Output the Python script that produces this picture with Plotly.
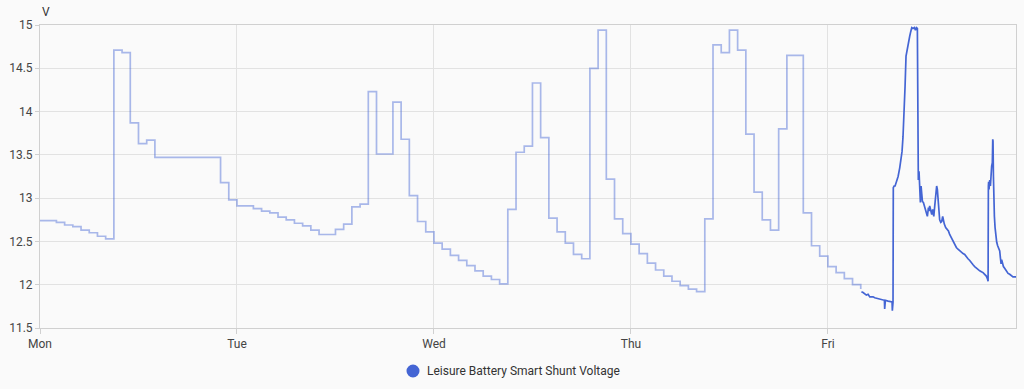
import pandas as pd
import plotly.graph_objects as go

# Hourly statistics (long-term) values, starting Mon 00:00
stat_start = "2024-01-01 00:00"
stat_values = [
    12.74, 12.74, 12.72, 12.69, 12.67, 12.63, 12.60, 12.56, 12.53, 14.71,
    14.68, 13.87, 13.63, 13.67, 13.47, 13.47, 13.47, 13.47, 13.47, 13.47,
    13.47, 13.47, 13.18, 12.98, 12.91, 12.91, 12.88, 12.85, 12.83, 12.78,
    12.75, 12.71, 12.68, 12.63, 12.58, 12.58, 12.64, 12.70, 12.90, 12.93,
    14.23, 13.51, 13.51, 14.11, 13.68, 13.03, 12.73, 12.61, 12.48, 12.41,
    12.34, 12.28, 12.22, 12.16, 12.10, 12.06, 12.01, 12.87, 13.53, 13.60,
    14.33, 13.70, 12.77, 12.61, 12.48, 12.35, 12.30, 14.50, 14.94, 13.22,
    12.76, 12.59, 12.47, 12.36, 12.25, 12.17, 12.10, 12.04, 11.99, 11.95,
    11.92, 12.76, 14.77, 14.68, 14.94, 14.71, 13.74, 13.07, 12.75, 12.63,
    13.80, 14.65, 14.65, 12.83, 12.45, 12.33, 12.21, 12.14, 12.07, 12.00,
    11.95,
]

# Detailed history on Friday
hist_day = "2024-01-05"
hist_times = [
    "04:05", "04:17", "04:41", "04:54", "05:06", "05:30", "05:42", "06:07", "06:31", "06:53",
    "06:55", "07:00", "07:20", "07:44", "07:49", "07:51", "07:54", "07:56", "07:58", "08:04",
    "08:11", "08:21", "08:33", "08:45", "08:55", "09:02", "09:09", "09:17", "09:24", "09:31",
    "09:36", "09:46", "09:58", "10:05", "10:13", "10:22", "10:32", "10:40", "10:47", "10:54",
    "10:57", "11:01", "11:06", "11:11", "11:16", "11:21", "11:26", "11:31", "11:38", "11:45",
    "11:53", "12:00", "12:07", "12:15", "12:19", "12:24", "12:32", "12:39", "12:46", "12:54",
    "13:01", "13:08", "13:15", "13:20", "13:25", "13:30", "13:37", "13:45", "13:52", "13:59",
    "14:04", "14:11", "14:21", "14:31", "14:41", "14:50", "15:03", "15:15", "15:27", "15:39",
    "15:51", "16:03", "16:16", "16:28", "16:40", "16:52", "17:04", "17:17", "17:29", "17:41",
    "17:53", "18:05", "18:17", "18:30", "18:42", "18:54", "19:06", "19:18", "19:26", "19:31",
    "19:33", "19:35", "19:38", "19:43", "19:48", "19:52", "19:57", "20:02", "20:05", "20:07",
    "20:10", "20:12", "20:17", "20:22", "20:27", "20:34", "20:41", "20:49", "20:56", "21:01",
    "21:06", "21:10", "21:15", "21:23", "21:32", "21:45", "21:57", "22:09", "22:21", "22:33",
    "22:45", "22:55",
]
hist_values = [
    11.92, 11.91, 11.88, 11.89, 11.86, 11.86, 11.85, 11.84, 11.83, 11.82,
    11.72, 11.82, 11.81, 11.80, 11.80, 11.70, 11.80, 11.80, 13.12, 13.14,
    13.14, 13.18, 13.25, 13.35, 13.44, 13.54, 13.71, 13.98, 14.29, 14.64,
    14.69, 14.77, 14.87, 14.92, 14.97, 14.96, 14.97, 14.94, 14.97, 14.96,
    13.29, 13.21, 13.31, 13.14, 12.95, 13.14, 13.02, 12.96, 12.95, 12.91,
    12.85, 12.81, 12.79, 12.89, 12.85, 12.91, 12.83, 12.81, 12.87, 12.79,
    12.91, 13.06, 13.14, 13.10, 12.98, 12.79, 12.75, 12.72, 12.73, 12.79,
    12.75, 12.70, 12.66, 12.64, 12.62, 12.58, 12.54, 12.50, 12.47, 12.43,
    12.41, 12.39, 12.37, 12.36, 12.35, 12.32, 12.30, 12.28, 12.25, 12.23,
    12.21, 12.19, 12.18, 12.16, 12.15, 12.14, 12.12, 12.10, 12.07, 12.04,
    13.14, 13.19, 13.10, 13.21, 13.14, 13.27, 13.37, 13.41, 13.68, 13.66,
    13.25, 12.98, 12.79, 12.66, 12.56, 12.49, 12.45, 12.42, 12.39, 12.31,
    12.24, 12.29, 12.25, 12.21, 12.19, 12.15, 12.13, 12.12, 12.10, 12.09,
    12.09, 12.09,
]

day_ticks = ["2024-01-01", "2024-01-02", "2024-01-03", "2024-01-04", "2024-01-05"]
day_labels = ["Mon", "Tue", "Wed", "Thu", "Fri"]
y_ticks = [11.5, 12, 12.5, 13, 13.5, 14, 14.5, 15]
x_range = ["2024-01-01 00:00", "2024-01-05 22:55"]
series_name = "Leisure Battery Smart Shunt Voltage"
unit = "V"

stat_times = pd.date_range(stat_start, periods=len(stat_values), freq="h")
hist_ts = pd.to_datetime([f"{hist_day} {t}" for t in hist_times])

W, H = 1024, 389
ML, MR, MT, MB = 40, 8, 25, 61
dark = "#4465d4"
light = "rgba(68,101,212,0.45)"
grid = "#e2e2e2"
axis_c = "#d0d0d0"
font = dict(family="Roboto", size=12, color="#444444")

fig = go.Figure()
fig.add_trace(go.Scatter(x=stat_times, y=stat_values, mode="lines", name=series_name,
                         line=dict(color=light, width=1.7, shape="hv"),
                         showlegend=False, hoverinfo="skip"))
fig.add_trace(go.Scatter(x=hist_ts, y=hist_values, mode="lines", name=series_name,
                         line=dict(color=dark, width=1.7),
                         showlegend=False))

# legend (circle + label) below the plot, in pixel positions relative to paper
plot_w, plot_h = W - ML - MR, H - MT - MB
def px_x(px):
    return (px - ML) / plot_w
def px_y(py):
    return (H - MB - py) / plot_h

leg_cx, leg_cy, leg_r = 413, 371, 6.5
fig.add_shape(type="circle", xref="paper", yref="paper",
              xsizemode="pixel", ysizemode="pixel",
              xanchor=px_x(leg_cx), yanchor=px_y(leg_cy),
              x0=-leg_r, x1=leg_r, y0=-leg_r, y1=leg_r,
              fillcolor=dark, line=dict(width=0))

fig.update_layout(
    width=W, height=H,
    margin=dict(l=ML, r=MR, t=MT, b=MB),
    paper_bgcolor="#fafafa", plot_bgcolor="#fafafa",
    font=font,
    showlegend=False,
    xaxis=dict(range=x_range, tickvals=day_ticks, ticktext=day_labels,
               showgrid=True, gridcolor=grid, gridwidth=1,
               showline=True, linecolor=axis_c, linewidth=1, mirror=True,
               ticks="outside", ticklen=5, tickcolor=axis_c,
               zeroline=False, fixedrange=True),
    yaxis=dict(range=[11.5, 15], tickvals=y_ticks,
               showgrid=True, gridcolor=grid, gridwidth=1,
               showline=True, linecolor=axis_c, linewidth=1, mirror=True,
               ticks="outside", ticklen=4, tickcolor=axis_c,
               zeroline=False, fixedrange=True),
    annotations=[
        dict(text=unit, xref="paper", yref="paper", x=0.0, y=1.0,
             xanchor="left", yanchor="bottom", yshift=4, showarrow=False,
             font=dict(family="Roboto", size=12, color="#333333")),
        dict(text=series_name, xref="paper", yref="paper",
             x=px_x(425), y=px_y(leg_cy), xanchor="left", yanchor="middle",
             showarrow=False, font=dict(family="Roboto", size=12, color="#333333")),
    ],
)

fig.write_html("out.html")
